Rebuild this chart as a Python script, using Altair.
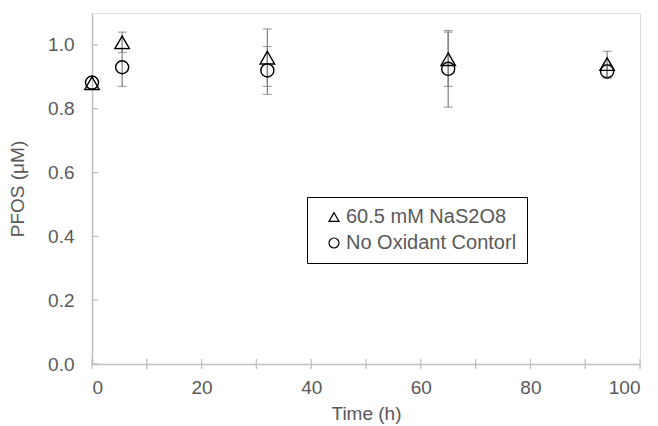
import altair as alt
import pandas as pd

# ---- data ----
time_h = [0, 5.5, 32, 65, 94]
persulfate_mean = [0.88, 1.008, 0.96, 0.955, 0.94]
persulfate_err = [0.0, 0.032, 0.09, 0.085, 0.04]
control_mean = [0.882, 0.93, 0.92, 0.925, 0.917]
control_err = [0.0, 0.06, 0.075, 0.12, 0.022]
series_names = ["60.5 mM NaS2O8", "No Oxidant Contorl"]
x_tick_values = [0, 10, 20, 30, 40, 50, 60, 70, 80, 90, 100]
x_label_values = [0, 20, 40, 60, 80, 100]
y_tick_values = [0.0, 0.2, 0.4, 0.6, 0.8, 1.0]

rows = []
for t, m, e in zip(time_h, persulfate_mean, persulfate_err):
    rows.append({"t": t, "v": m, "lo": m - e, "hi": m + e, "err": e, "s": series_names[0]})
for t, m, e in zip(time_h, control_mean, control_err):
    rows.append({"t": t, "v": m, "lo": m - e, "hi": m + e, "err": e, "s": series_names[1]})
df = pd.DataFrame(rows)
df_err = df[df["err"] > 0]

GRAY_TXT = "#595959"
AXIS_C = "#BFBFBF"
FONT = "Liberation Sans"
FS = 19

xs = alt.Scale(domain=[0, 100], nice=False, zero=False)
ys = alt.Scale(domain=[0, 1.1], nice=False)

X = alt.X("t:Q", scale=xs, axis=alt.Axis(
    values=x_label_values, ticks=False, grid=False, domainColor=AXIS_C, domainWidth=1.5,
    labelColor=GRAY_TXT, labelFontSize=FS, labelFont=FONT, labelPadding=14,
    title="Time (h)", titleColor=GRAY_TXT, titleFontSize=FS, titleFont=FONT,
    titleFontWeight="normal", titlePadding=7))
Y = alt.Y("v:Q", scale=ys, axis=alt.Axis(
    values=y_tick_values, format=".1f", ticks=False, grid=False, domainColor=AXIS_C,
    domainWidth=1.5, labelColor=GRAY_TXT, labelFontSize=FS, labelFont=FONT, labelPadding=18,
    title="PFOS (μM)", titleColor=GRAY_TXT, titleFontSize=FS, titleFont=FONT,
    titleFontWeight="normal", titlePadding=20))

shape_scale = alt.Scale(domain=series_names, range=["triangle-up", "circle"])

bars = alt.Chart(df_err).mark_rule(color="#808080", strokeWidth=1.2).encode(
    x=alt.X("t:Q", scale=xs), y=alt.Y("lo:Q", scale=ys), y2="hi:Q")
caps_hi = alt.Chart(df_err).mark_tick(color="#808080", thickness=1.2, size=9, orient="horizontal").encode(
    x=alt.X("t:Q", scale=xs), y=alt.Y("hi:Q", scale=ys))
caps_lo = alt.Chart(df_err).mark_tick(color="#808080", thickness=1.2, size=9, orient="horizontal").encode(
    x=alt.X("t:Q", scale=xs), y=alt.Y("lo:Q", scale=ys))

points = alt.Chart(df).mark_point(filled=False, color="black", strokeWidth=1.4, opacity=1).encode(
    x=X, y=Y,
    shape=alt.Shape("s:N", scale=shape_scale, sort=series_names, legend=alt.Legend(
        title=None, orient="none", legendX=215, legendY=184, strokeColor="black",
        fillColor="white", padding=10, symbolOffset=7, labelOffset=2, rowPadding=6,
        labelFontSize=20, labelFont=FONT, labelColor=GRAY_TXT, symbolSize=100,
        labelLimit=400,
        symbolStrokeColor="black", symbolStrokeWidth=1.2, symbolFillColor="transparent",
        labelExpr="datum.label + '\u00a0\u00a0\u00a0\u00a0'",
        symbolType="circle")),
    size=alt.condition(alt.datum.s == series_names[0], alt.value(210), alt.value(170)),
)

ytick_df = pd.DataFrame({"yt": y_tick_values})
yticks = alt.Chart(ytick_df).mark_rule(color=AXIS_C, strokeWidth=1.3).encode(
    y=alt.Y("yt:Q", scale=ys), x=alt.value(0), x2=alt.value(6))
xtick_df = pd.DataFrame({"xt": x_tick_values})
xticks = alt.Chart(xtick_df).mark_rule(color=AXIS_C, strokeWidth=1.3).encode(
    x=alt.X("xt:Q", scale=xs), y=alt.value(346), y2=alt.value(356))

chart = alt.layer(yticks, xticks, bars, caps_hi, caps_lo, points).properties(
    width=548, height=351,
    autosize=alt.AutoSizeParams(type="none"),
    padding={"left": 92, "top": 13, "right": 18, "bottom": 62},
).configure_view(stroke=None).configure(background="white")

chart.save("out.html", embed_options={"renderer": "svg", "actions": False})
